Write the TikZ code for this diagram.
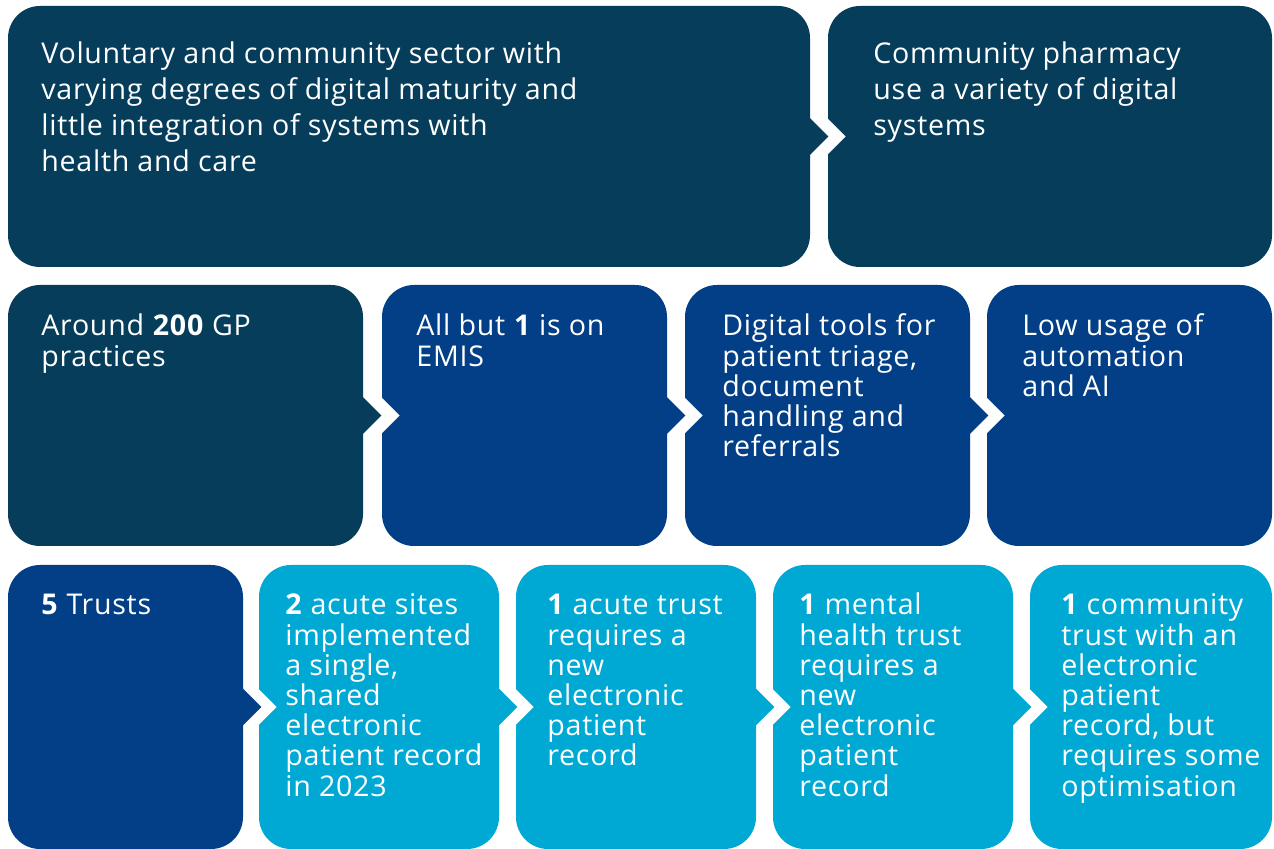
\documentclass[tikz,border=0pt]{standalone}
\usepackage{fontspec}
\setmainfont{Open Sans}[LetterSpace=2.5]
\usetikzlibrary{calc, fit}

\definecolor{deepteal}{HTML}{053D5B}
\definecolor{trustnavy}{HTML}{023F86}
\definecolor{acutecyan}{HTML}{00A9D4}

% white notch in the right panel, pointed tip on the left panel
\newcommand{\chevron}[3]{%
  \fill[white] ($(#2.west)+(-1,-19)$) -- ($(#2.west)+(18,0)$) -- ($(#2.west)+(-1,19)$) -- cycle;
  \fill[#3] ($(#1.east)+(-1,-19)$) -- ($(#1.east)+(18,0)$) -- ($(#1.east)+(-1,19)$) -- cycle;
}
\newcommand{\paneltxt}[1]{\parbox[t]{400pt}{\raggedright #1}}

\begin{document}
\begin{tikzpicture}[
    x=0.5pt, y=-0.5pt,
    panel/.style={rectangle, rounded corners=16pt, inner sep=0pt, draw=none},
    bigtext/.style={anchor=base west, inner sep=0pt, text=white, font=\fontsize{14.3}{18}\selectfont},
    smalltext/.style={anchor=base west, inner sep=0pt, text=white, font=\fontsize{14.3}{15.1}\selectfont}
]
    \fill[white] (0,0) rectangle (1274,849);
    \useasboundingbox (0,0) rectangle (1274,849);

    % top row
    \node[panel, fill=deepteal, fit={(8,6) (810,267)}] (vcs) {};
    \node[panel, fill=deepteal, fit={(828,6) (1272,267)}] (pharmacy) {};
    % middle row
    \node[panel, fill=deepteal, fit={(8,285) (363,546)}] (gp) {};
    \node[panel, fill=trustnavy, fit={(382,285) (667,546)}] (emis) {};
    \node[panel, fill=trustnavy, fit={(685,285) (970,546)}] (tools) {};
    \node[panel, fill=trustnavy, fit={(987,285) (1272,546)}] (automation) {};
    % bottom row
    \node[panel, fill=trustnavy, fit={(8,565) (243,849)}] (trusts) {};
    \node[panel, fill=acutecyan, fit={(259,565) (499,849)}] (acute) {};
    \node[panel, fill=acutecyan, fit={(516,565) (756,849)}] (newepr) {};
    \node[panel, fill=acutecyan, fit={(773,565) (1013,849)}] (mental) {};
    \node[panel, fill=acutecyan, fit={(1030,565) (1272,849)}] (community) {};

    \chevron{vcs}{pharmacy}{deepteal}
    \chevron{gp}{emis}{deepteal}
    \chevron{emis}{tools}{trustnavy}
    \chevron{tools}{automation}{trustnavy}
    \chevron{trusts}{acute}{trustnavy}
    \chevron{acute}{newepr}{acutecyan}
    \chevron{newepr}{mental}{acutecyan}
    \chevron{mental}{community}{acutecyan}

    \node[bigtext] (vcs text) at (41,64) {\paneltxt{Voluntary and community sector with\\varying degrees of digital maturity and\\little integration of systems with\\health and care}};
    \node[bigtext] (pharmacy text) at (873,64) {\paneltxt{Community pharmacy\\use a variety of digital\\systems}};

    \node[smalltext] (gp text) at (41,336) {\paneltxt{Around \textbf{200} GP\\practices}};
    \node[smalltext] (emis text) at (416,336) {\paneltxt{All but \textbf{1} is on\\EMIS}};
    \node[smalltext] (tools text) at (722,336) {\paneltxt{Digital tools for\\patient triage,\\document\\handling and\\referrals}};
    \node[smalltext] (automation text) at (1022,336) {\paneltxt{Low usage of\\automation\\and AI}};

    \node[smalltext] (trusts text) at (41,615) {\paneltxt{\textbf{5} Trusts}};
    \node[smalltext] (acute text) at (285,615) {\paneltxt{\textbf{2} acute sites\\implemented\\a single,\\shared\\electronic\\patient record\\in 2023}};
    \node[smalltext] (newepr text) at (547,615) {\paneltxt{\textbf{1} acute trust\\requires a\\new\\electronic\\patient\\record}};
    \node[smalltext] (mental text) at (799,615) {\paneltxt{\textbf{1} mental\\health trust\\requires a\\new\\electronic\\patient\\record}};
    \node[smalltext] (community text) at (1061,615) {\paneltxt{\textbf{1} community\\trust with an\\electronic\\patient\\record, but\\requires some\\optimisation}};
\end{tikzpicture}
\end{document}
